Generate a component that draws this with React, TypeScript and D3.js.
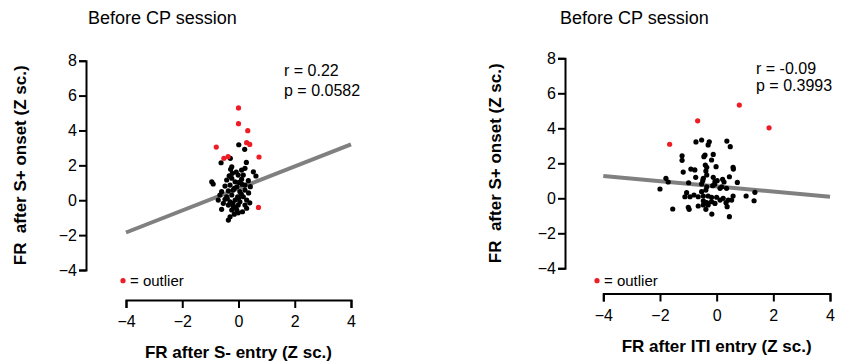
import React, { useEffect, useRef } from "react";
import * as d3 from "d3";

const xTicks = [-4, -2, 0, 2, 4];
const yTicks = [-4, -2, 0, 2, 4, 6, 8];

const leftBlack: [number, number][] = [
  [0.01, 3.18], [0.22, 2.92], [-0.29, 2.4], [-0.62, 2.15], [0.28, 2.17],
  [-0.24, 1.92], [-0.28, 1.77], [0.11, 1.73], [0.23, 1.83], [0.53, 1.63], [-0.22, 1.54], [-0.01, 1.44], [0.17, 1.44], [0.62, 1.39],
  [-0.95, 1.06], [-0.9, 0.93], [-0.42, 1.16], [-0.24, 1.26], [-0.12, 1.06], [0.11, 1.2], [0.35, 1.12], [-0.48, 0.81], [-0.3, 0.87],
  [-0.06, 0.77], [0.23, 0.87], [-0.6, 0.49], [-0.36, 0.54], [-0.19, 0.58], [0.05, 0.49], [0.23, 0.58], [-0.66, 0.3], [-0.42, 0.2],
  [-0.24, 0.3], [-0.03, 0.2], [0.17, 0.2], [-0.72, 0.01], [-0.48, 0.05], [-0.3, -0.09], [-0.12, 0.01], [0.05, -0.09], [0.29, 0.01],
  [-0.54, -0.18], [-0.36, -0.28], [-0.19, -0.33], [-0.01, -0.28], [0.23, -0.28], [-0.6, -0.52], [-0.24, -0.56], [-0.06, -0.56],
  [0.29, -0.46], [-0.01, -0.72], [-0.3, -0.95], [-0.36, -1.14],
  [0.1, 0.35], [-0.15, 0.68], [0.02, 1.02], [-0.1, -0.42], [0.14, -0.66], [-0.4, 0.1], [0.36, 0.42], [0.4, -0.15], [-0.08, 1.62],
  [0.0, 0.12], [-0.2, -0.2], [0.12, 0.92], [-0.33, 1.4], [0.42, 0.78], [-0.15, -0.8],
];
const leftRed: [number, number][] = [
  [0.0, 5.29], [0.0, 4.39], [0.33, 3.99], [0.29, 3.3], [0.4, 3.2], [-0.79, 3.05], [0.73, 2.48], [-0.52, 2.4], [-0.37, 2.5], [0.71, -0.41],
];
const rightBlack: [number, number][] = [
  [-0.73, 3.22], [-0.53, 3.33], [-0.26, 3.23], [-0.3, 3.05], [0.36, 3.27], [0.48, 2.95], [-1.22, 2.43], [-1.22, 2.17],
  [-0.41, 2.47], [-0.45, 2.38], [-0.12, 2.51], [-0.18, 2.19], [-0.4, 1.9], [-0.35, 1.77], [-0.02, 1.81], [0.58, 1.77], [0.59, 1.67],
  [-0.91, 1.67], [-0.77, 1.62], [-1.18, 1.5], [-0.38, 1.56], [0.45, 1.23], [-0.74, 1.2], [-0.47, 1.14], [-0.35, 1.33], [-0.12, 1.2],
  [-1.79, 1.14], [-1.71, 0.93], [-0.99, 0.89], [-0.49, 1.01], [-0.53, 0.82], [-0.06, 0.95], [0.02, 1.01], [0.21, 1.09], [0.26, 0.93],
  [0.73, 0.91], [-2.0, 0.53], [-0.35, 0.66], [-0.38, 0.47], [-0.14, 0.72], [-0.07, 0.8], [0.12, 0.57], [0.18, 0.66], [0.35, 0.57],
  [-0.53, 0.38], [-1.06, 0.32], [1.35, 0.34], [-1.12, 0.09], [-0.94, 0.09], [-0.8, 0.19], [-0.65, 0.09], [-0.47, 0.13], [-0.3, 0.13],
  [-0.18, 0.06], [0.0, 0.06], [0.12, -0.1], [0.23, 0.0], [0.41, -0.1], [0.58, 0.13], [0.53, -0.1], [1.04, 0.13], [1.32, -0.14],
  [-0.47, -0.14], [-0.35, -0.25], [-0.18, -0.19], [-0.06, -0.29], [-0.65, -0.44], [-0.47, -0.38], [-0.3, -0.38], [0.33, -0.25],
  [0.37, -0.48], [-1.55, -0.61], [-1.0, -0.51], [-0.97, -0.63], [-0.38, -0.63], [-0.17, -0.9], [0.45, -1.05],
];
const rightRed: [number, number][] = [
  [0.8, 5.33], [-0.67, 4.43], [-1.66, 3.09], [1.85, 4.03],
];
const leftFit: [number, number][] = [[-4, -1.85], [4, 3.2]];
const rightFit: [number, number][] = [[-4, 1.27], [4, 0.09]];

const titles = ["Before CP session", "Before CP session"];
const xLabels = ["FR after S- entry (Z sc.)", "FR after ITI entry (Z sc.)"];
const yLabel = "FR  after S+ onset (Z sc.)";
const stats = [["r = 0.22", "p = 0.0582"], ["r = -0.09", "p = 0.3993"]];
const legendLabel = "= outlier";

const FONT = "'Liberation Sans', Arial, sans-serif";

type PanelGeom = {
  yAxisX: number; yTop: number; yBottom: number; xAxisY: number; xLeft: number; xRight: number;
  titleX: number; yLabelX: number; statX: number; statY1: number; statY2: number; legX: number;
};

const geoms: PanelGeom[] = [
  { yAxisX: 86, yTop: 60.7, yBottom: 270, xAxisY: 300, xLeft: 126, xRight: 351, titleX: 88, yLabelX: 26, statX: 284, statY1: 76, statY2: 96, legX: 123 },
  { yAxisX: 565, yTop: 58.3, yBottom: 268.3, xAxisY: 293.5, xLeft: 603.3, xRight: 830, titleX: 560, yLabelX: 501, statX: 756, statY1: 74, statY2: 91, legX: 597 },
];

function Panel({ g, idx, black, red, fit }: { g: PanelGeom; idx: number; black: [number, number][]; red: [number, number][]; fit: [number, number][] }) {
  const xRef = useRef<SVGGElement>(null);
  const yRef = useRef<SVGGElement>(null);
  const x = d3.scaleLinear().domain([-4, 4]).range([g.xLeft, g.xRight]);
  const y = d3.scaleLinear().domain([-4, 8]).range([g.yBottom, g.yTop]);

  useEffect(() => {
    const xa = d3.select(xRef.current!);
    xa.call(d3.axisBottom(x).tickValues(xTicks).tickSize(8).tickSizeOuter(8).tickPadding(8) as any);
    const ya = d3.select(yRef.current!);
    ya.call(d3.axisLeft(y).tickValues(yTicks).tickSize(7).tickSizeOuter(7).tickPadding(2) as any);
    [xa, ya].forEach((a) => {
      a.selectAll("path.domain").attr("stroke", "#000").attr("stroke-width", 2);
      a.selectAll(".tick line").attr("stroke", "#000").attr("stroke-width", 2);
      a.selectAll(".tick text").attr("fill", "#000").style("font-size", "16px").style("font-family", FONT);
    });
  });

  const line = d3.line<[number, number]>().x((d) => x(d[0])).y((d) => y(d[1]));
  const midY = (g.yTop + g.yBottom) / 2;

  return (
    <g>
      <text x={g.titleX} y={24} fontSize={18} fontFamily={FONT} fill="#000">{titles[idx]}</text>
      <g ref={yRef} transform={`translate(${g.yAxisX},0)`} />
      <g ref={xRef} transform={`translate(0,${g.xAxisY})`} />
      <text transform={`translate(${g.yLabelX},${midY}) rotate(-90)`} textAnchor="middle" fontSize={17} fontWeight="bold" fontFamily={FONT} style={{ whiteSpace: "pre" }}>{yLabel}</text>
      <text x={(g.xLeft + g.xRight) / 2} y={g.xAxisY + 58} textAnchor="middle" fontSize={17} fontWeight="bold" fontFamily={FONT}>{xLabels[idx]}</text>
      <path d={line(fit) || ""} stroke="#808080" strokeWidth={4} fill="none" />
      {black.map((d, i) => (
        <circle key={"b" + i} cx={x(d[0])} cy={y(d[1])} r={2.6} fill="#000" />
      ))}
      {red.map((d, i) => (
        <circle key={"r" + i} cx={x(d[0])} cy={y(d[1])} r={2.6} fill="#ee1c24" />
      ))}
      <text x={g.statX} y={g.statY1} fontSize={16} fontFamily={FONT} fill="#000">{stats[idx][0]}</text>
      <text x={g.statX} y={g.statY2} fontSize={16} fontFamily={FONT} fill="#000">{stats[idx][1]}</text>
      <circle cx={g.legX} cy={280.7} r={2.6} fill="#ee1c24" />
      <text x={g.legX + 7} y={286} fontSize={15} fontFamily={FONT} fill="#000">{legendLabel}</text>
    </g>
  );
}

export default function App() {
  return (
    <svg width={847} height={364} style={{ position: "absolute", left: 0, top: 0, background: "#fff" }}>
      <Panel g={geoms[0]} idx={0} black={leftBlack} red={leftRed} fit={leftFit} />
      <Panel g={geoms[1]} idx={1} black={rightBlack} red={rightRed} fit={rightFit} />
    </svg>
  );
}
